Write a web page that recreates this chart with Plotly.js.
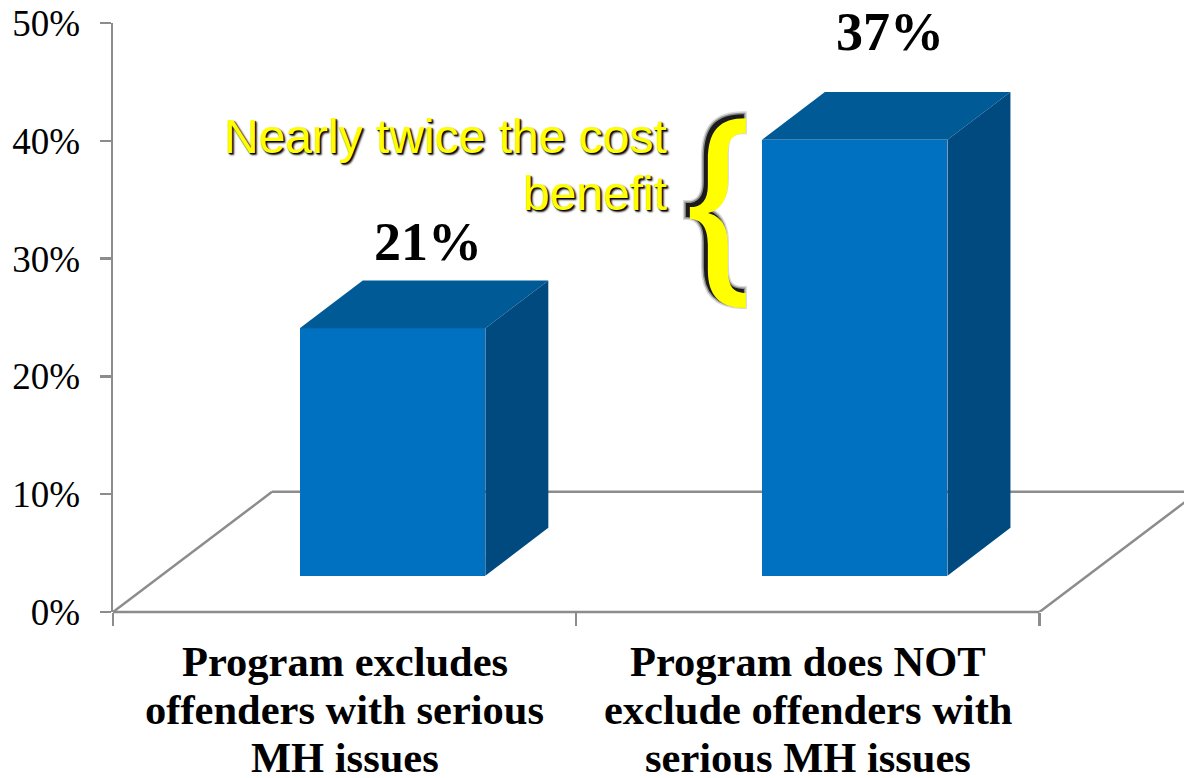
<!DOCTYPE html>
<html>
<head>
<meta charset="utf-8">
<script src="https://cdn.plot.ly/plotly-3.0.1.min.js"></script>
<style>html,body{margin:0;padding:0;background:#fff}#c{width:1184px;height:778px}</style>
</head>
<body>
<div id="c"></div>
<script>
var categoryLines = [
  ["Program excludes", "offenders with serious", "MH issues"],
  ["Program does NOT", "exclude offenders with", "serious MH issues"]
];
var categoryPos = [0, 1];
var values = [21, 37];
var valueLabels = ["21%", "37%"];
var valueLabelY = [31.4, 49.2];
var yTicks = [0, 10, 20, 30, 40, 50];
var yTickLabels = ["0%", "10%", "20%", "30%", "40%", "50%"];
var noteLines = ["Nearly twice the cost", "benefit"];

var L = 113.3, T = 22.7, B = 612.3, XU = 463.1, YU = 11.792;
var xMax = -0.5 + (1184 - L) / XU;
function X(p) { return (p - L) / XU - 0.5; }
function Y(p) { return (B - p) / YU; }
function PY(p) { return (B - p) / (B - T); }

var barLift = 3.08, barOffset = [-0.0968, -0.0992], barWidth = 0.4006;
var barDx = 0.136, barDy = 4.07, floorDx = 0.3433, floorDy = 10.2;
var GRAY = "#8c8c8c", FRONT = "#0070c0", TOP = "#005a96", SIDE = "#004a80", LW = 2.5;

var traces = [{
  type: "bar", x: categoryPos, y: values, base: [barLift, barLift], offset: barOffset, width: barWidth,
  marker: { color: FRONT, line: { width: 0 } }, hoverinfo: "skip", showlegend: false
}];
values.forEach(function (v, i) {
  var x0 = categoryPos[i] + barOffset[i], x1 = x0 + barWidth, b = barLift, t = barLift + v;
  traces.push({
    type: "scatter", mode: "lines", x: [x0, x0 + barDx, x1 + barDx, x1, x0], y: [t, t + barDy, t + barDy, t, t],
    fill: "toself", fillcolor: TOP, line: { width: 0 }, hoverinfo: "skip", showlegend: false
  });
  traces.push({
    type: "scatter", mode: "lines", x: [x1, x1 + barDx, x1 + barDx, x1, x1], y: [t, t + barDy, b + barDy, b, t],
    fill: "toself", fillcolor: SIDE, line: { width: 0 }, hoverinfo: "skip", showlegend: false
  });
});

function floorLine(x0, y0, x1, y1) {
  return { type: "line", layer: "below", xref: "x", yref: "y", x0: x0, y0: y0, x1: x1, y1: y1, line: { color: GRAY, width: LW } };
}
var bracePx = [
  ["M", 746, 118], ["C", 720, 118, 708, 130, 708, 160], ["L", 708, 185], ["C", 708, 200, 702, 207, 690, 207],
  ["L", 690, 219], ["C", 702, 219, 708, 228, 708, 245], ["L", 708, 270], ["C", 708, 296, 720, 308, 746, 308],
  ["L", 746, 293], ["C", 732, 293, 728, 285, 728, 268], ["L", 728, 245], ["C", 728, 225, 720, 216, 708, 213],
  ["C", 720, 210, 728, 200, 728, 182], ["L", 728, 155], ["C", 728, 140, 732, 133, 746, 133]
];
function bracePath(dx, dy) {
  return bracePx.map(function (s) {
    var o = s[0];
    for (var k = 1; k < s.length; k += 2) { o += " " + X(Math.min(s[k] + dx, 746)) + "," + Y(s[k + 1] + dy); }
    return o;
  }).join(" ") + " Z";
}
function braceShape(dx, dy, fill, opacity, lw) {
  return { type: "path", layer: "above", xref: "x", yref: "y", path: bracePath(dx, dy), fillcolor: fill, opacity: opacity, line: { color: fill, width: lw } };
}

var shapes = [
  floorLine(-0.5, 0, -0.5 + floorDx, floorDy),
  floorLine(-0.5 + floorDx, floorDy, xMax, floorDy),
  floorLine(1.5, 0, 1.5 + floorDx, floorDy),
  { type: "line", layer: "below", xref: "x", yref: "paper", x0: -0.5, x1: 1.5, y0: 0, y1: 0, line: { color: GRAY, width: LW } },
  braceShape(-3, -3, "#000", 0.15, 8),
  braceShape(-3, -3, "#000", 0.35, 5),
  braceShape(-3, -3, "#000", 0.8, 2),
  braceShape(0, 0, "#ffff00", 1, 0)
];

var annotations = valueLabels.map(function (t, i) {
  return {
    text: "<b>" + t + "</b>", xref: "x", yref: "y", showarrow: false,
    x: categoryPos[i] + barOffset[i] + (barWidth + barDx) / 2 + 0.0076, y: valueLabelY[i],
    xanchor: "center", yanchor: "middle",
    font: { family: "Liberation Serif", size: 54, color: "#000" }
  };
});
noteLines.forEach(function (t, i) {
  annotations.push({
    text: t, xref: "x", yref: "y", showarrow: false, align: "right",
    x: X(669), y: Y(136 + 57 * i), xanchor: "right", yanchor: "middle",
    font: { family: "Liberation Sans", size: 48, color: "#ffff00", shadow: "1px 1px 1px #000, 2px 2px 2px #222" }
  });
});
categoryLines.forEach(function (lines, c) {
  lines.forEach(function (t, i) {
    annotations.push({
      text: "<b>" + t + "</b>", xref: "x", yref: "paper", showarrow: false,
      x: categoryPos[c], y: PY(662 + 48 * i), xanchor: "center", yanchor: "middle",
      font: { family: "Liberation Serif", size: 42.5, color: "#000" }
    });
  });
});

Plotly.newPlot("c", traces, {
  width: 1184, height: 778, paper_bgcolor: "#fff", plot_bgcolor: "rgba(0,0,0,0)",
  margin: { l: L, r: 0, t: T, b: 778 - B, pad: 0 },
  showlegend: false, bargap: 0,
  xaxis: {
    range: [-0.5, xMax], showticklabels: false, ticks: "",
    showgrid: false, zeroline: false, showline: false,
    minor: { tickmode: "array", tickvals: [-0.5, 0.5, 1.5], ticks: "outside", ticklen: 13, tickwidth: LW, tickcolor: GRAY, showgrid: false }
  },
  yaxis: {
    range: [0, 50], tickmode: "array", tickvals: yTicks, ticktext: yTickLabels, ticks: "outside", ticklen: 11, tickwidth: LW, tickcolor: GRAY,
    showline: true, linecolor: GRAY, linewidth: LW, showgrid: false, zeroline: false, ticklabelstandoff: 12,
    tickfont: { family: "Liberation Serif", size: 37, color: "#000" }
  },
  shapes: shapes, annotations: annotations
}, { displayModeBar: false, staticPlot: true });
</script>
</body>
</html>
